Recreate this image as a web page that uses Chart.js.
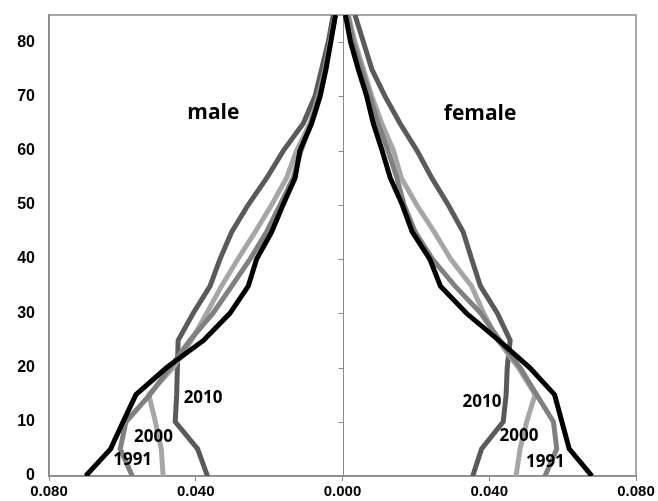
<!DOCTYPE html>
<html>
<head>
<meta charset="utf-8">
<script src="https://cdn.jsdelivr.net/npm/chart.js@4/dist/chart.umd.min.js"></script>
<style>
  html, body { margin: 0; padding: 0; background: #fff; }
  #wrap { width: 658px; height: 501px; }
</style>
</head>
<body>
<div id="wrap"><canvas id="c" width="658" height="501"></canvas></div>
<script>
// Age groups (lower bound of each 5-year band)
const ages = [0, 5, 10, 15, 20, 25, 30, 35, 40, 45, 50, 55, 60, 65, 70, 75, 80, 85];

// Share of total population by age, males (plotted to the left)
const male1982 = [0.0700, 0.0632, 0.0598, 0.0563, 0.0479, 0.0379, 0.0307, 0.0257, 0.0234, 0.0193, 0.0162, 0.0129, 0.0116, 0.0084, 0.0061, 0.0045, 0.0032, 0.0019];
const male1991 = [0.0573, 0.0606, 0.0590, 0.0525, 0.0470, 0.0416, 0.0353, 0.0302, 0.0252, 0.0207, 0.0170, 0.0134, 0.0113, 0.0086, 0.0064, 0.0047, 0.0033, 0.0020];
const male2000 = [0.0489, 0.0494, 0.0510, 0.0528, 0.0461, 0.0412, 0.0370, 0.0330, 0.0285, 0.0238, 0.0193, 0.0152, 0.0125, 0.0089, 0.0066, 0.0048, 0.0034, 0.0020];
const male2010 = [0.0368, 0.0395, 0.0456, 0.0452, 0.0450, 0.0448, 0.0407, 0.0361, 0.0334, 0.0302, 0.0257, 0.0206, 0.0161, 0.0107, 0.0075, 0.0057, 0.0039, 0.0025];

// Share of total population by age, females (plotted to the right)
const female1982 = [0.0680, 0.0618, 0.0598, 0.0578, 0.0510, 0.0426, 0.0338, 0.0267, 0.0238, 0.0190, 0.0163, 0.0130, 0.0108, 0.0084, 0.0066, 0.0043, 0.0022, 0.0008];
const female1991 = [0.0552, 0.0584, 0.0575, 0.0529, 0.0484, 0.0429, 0.0377, 0.0307, 0.0245, 0.0198, 0.0168, 0.0148, 0.0124, 0.0097, 0.0075, 0.0052, 0.0029, 0.0014];
const female2000 = [0.0473, 0.0484, 0.0502, 0.0525, 0.0479, 0.0424, 0.0385, 0.0352, 0.0295, 0.0250, 0.0202, 0.0160, 0.0139, 0.0107, 0.0080, 0.0057, 0.0034, 0.0016];
const female2010 = [0.0355, 0.0379, 0.0438, 0.0446, 0.0449, 0.0457, 0.0422, 0.0376, 0.0352, 0.0329, 0.0288, 0.0243, 0.0203, 0.0157, 0.0116, 0.0080, 0.0057, 0.0034];

// Axis ticks
const xTicks = [-0.08, -0.04, 0, 0.04, 0.08];
const yTicks = [0, 10, 20, 30, 40, 50, 60, 70, 80];

// Text annotations placed in data units: [label, share (signed), age]
const yearLabels = [
  ['2010', -0.0380, 14.4],
  ['2000', -0.0515, 7.2],
  ['1991', -0.0572, 3.0],
  ['2010', 0.0380, 13.7],
  ['2000', 0.0481, 7.4],
  ['1991', 0.0553, 2.6]
];
const sideLabels = [
  ['male', -0.0352, 67.0],
  ['female', 0.0375, 66.8]
];

const colors = { '1982': '#000000', '1991': '#808080', '2000': '#a6a6a6', '2010': '#5a5a5a' };

function series(values, sign) {
  return ages.map((a, i) => ({ x: sign * values[i], y: a }));
}

const seriesDefs = [
  ['1982', male1982, female1982],
  ['1991', male1991, female1991],
  ['2000', male2000, female2000],
  ['2010', male2010, female2010]
];

const datasets = [];
seriesDefs.forEach(([year, m, f]) => {
  [[m, -1], [f, 1]].forEach(([vals, sign]) => {
    datasets.push({
      label: year,
      data: series(vals, sign),
      showLine: true,
      borderColor: colors[year],
      backgroundColor: colors[year],
      borderWidth: 5,
      pointRadius: 0,
      pointHoverRadius: 0,
      tension: 0,
      fill: false
    });
  });
});

const AXIS_GREY = '#8a8a8a';

// Frame, centre axis with tick marks, and text annotations
const decorations = {
  id: 'decorations',
  beforeDatasetsDraw(chart) {
    const { ctx, chartArea: a, scales } = chart;
    const xs = scales.x, ys = scales.y;
    ctx.save();
    ctx.strokeStyle = AXIS_GREY;
    ctx.lineWidth = 1.5;
    ctx.strokeRect(a.left, a.top, a.right - a.left, a.bottom - a.top);
    const cx = Math.round(xs.getPixelForValue(0)) + 0.5;
    ctx.lineWidth = 1;
    ctx.beginPath();
    ctx.moveTo(cx, a.top);
    ctx.lineTo(cx, a.bottom);
    yTicks.forEach(v => {
      const py = Math.round(ys.getPixelForValue(v)) + 0.5;
      ctx.moveTo(cx - 5, py);
      ctx.lineTo(cx, py);
    });
    ctx.stroke();
    ctx.restore();
  },
  afterDatasetsDraw(chart) {
    const { ctx, scales } = chart;
    const xs = scales.x, ys = scales.y;
    ctx.save();
    ctx.fillStyle = '#000';
    ctx.textAlign = 'center';
    ctx.textBaseline = 'middle';
    ctx.font = 'bold 17px "Open Sans"';
    yearLabels.forEach(([t, x, y]) => {
      ctx.fillText(t, xs.getPixelForValue(x), ys.getPixelForValue(y));
    });
    ctx.font = 'bold 21px "Open Sans"';
    sideLabels.forEach(([t, x, y]) => {
      ctx.fillText(t, xs.getPixelForValue(x), ys.getPixelForValue(y));
    });
    ctx.restore();
  }
};

new Chart(document.getElementById('c'), {
  type: 'scatter',
  data: { datasets },
  options: {
    responsive: false,
    animation: false,
    events: [],
    layout: { padding: { top: 15, right: 22, left: 0, bottom: 0 } },
    plugins: { legend: { display: false }, tooltip: { enabled: false } },
    scales: {
      x: {
        type: 'linear',
        min: -0.08,
        max: 0.08,
        afterBuildTicks(scale) { scale.ticks = xTicks.map(v => ({ value: v })); },
        afterFit(scale) {
          scale.height = 25;
          scale.paddingLeft = 0;
          scale.paddingRight = 0;
        },
        ticks: {
          color: '#000',
          font: { family: '"Liberation Sans", Arial', size: 15, weight: 'bold' },
          padding: 2,
          maxRotation: 0,
          autoSkip: false,
          callback: v => Math.abs(v).toFixed(3)
        },
        grid: {
          drawOnChartArea: false,
          drawTicks: true,
          tickLength: 5,
          color: AXIS_GREY
        },
        border: { display: true, color: AXIS_GREY, width: 1.5 }
      },
      y: {
        type: 'linear',
        min: 0,
        max: 85,
        afterBuildTicks(scale) { scale.ticks = yTicks.map(v => ({ value: v })); },
        afterFit(scale) {
          scale.width = 49;
          scale.paddingTop = 0;
          scale.paddingBottom = 0;
        },
        ticks: {
          color: '#000',
          font: { family: '"Liberation Sans", Arial', size: 16, weight: 'bold' },
          padding: 14
        },
        grid: { display: false, drawTicks: false },
        border: { display: true, color: AXIS_GREY, width: 1.5 }
      }
    }
  },
  plugins: [decorations]
});
</script>
</body>
</html>
